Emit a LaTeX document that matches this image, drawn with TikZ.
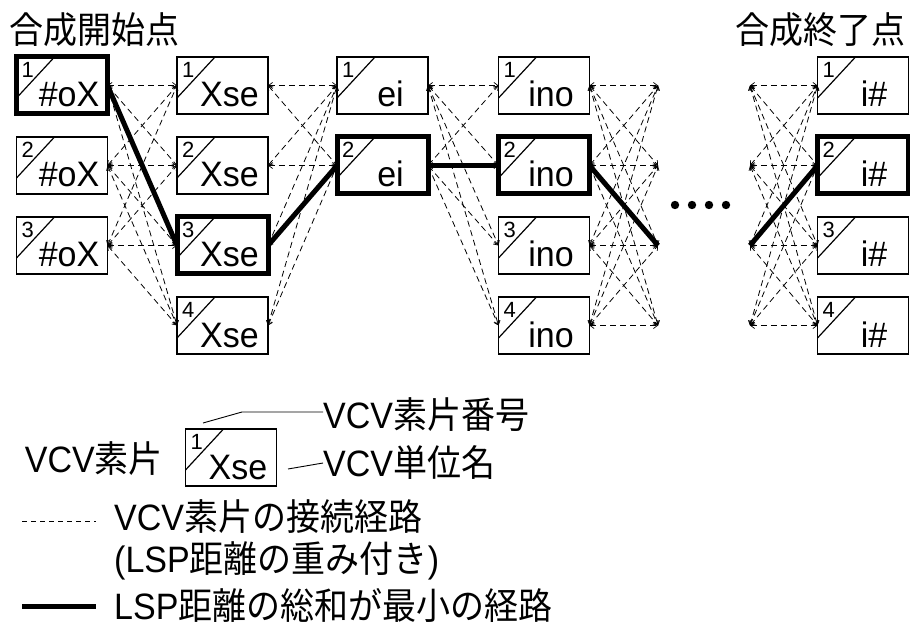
\documentclass[tikz,border=0pt]{standalone}
\usepackage{fontspec}
\setmainfont{Liberation Sans}
\newfontfamily\jp{Noto Sans CJK JP}
\usetikzlibrary{calc,arrows.meta}

\newcommand\tallt[1]{\scalebox{1}[1.08]{#1}}

\tikzset{
  vcv/.style={draw, line width=1.2pt, fill=white, minimum width=91pt, minimum height=57pt, inner sep=0pt, outer sep=0pt},
  best/.style={line width=5pt},
  link/.style={line width=0.8pt, dash pattern=on 6pt off 4pt,
    {Straight Barb[length=4pt,width=6pt,line width=0.7pt]}-{Straight Barb[length=4pt,width=6pt,line width=0.7pt]}},
  legdash/.style={line width=0.8pt, dash pattern=on 5pt off 4pt},
  minpath/.style={line width=5pt},
  leader/.style={line width=0.9pt},
  numtxt/.style={font=\fontsize{22}{22}\selectfont, inner sep=0pt, anchor=north west},
  labtxt/.style={font=\fontsize{34}{34}\selectfont, inner sep=0pt, anchor=base},
  bigtxt/.style={font=\fontsize{34}{40}\selectfont, inner sep=0pt},
}

% name, x, y, number, label, extra style, label x offset
\newcommand\vcvbox[7]{%
  \node[vcv,#6] (#1) at (#2,#3) {};
  \draw[line width=1.2pt] ($(#1.north west)+(0,41)$) -- ($(#1.north west)+(38,0)$);
  \node[numtxt] (#1n) at ($(#1.north west)+(5,5)$) {#4};
  \node[labtxt] (#1l) at ($(#1.south)+(#7,-7)$) {\scalebox{1}[1.04]{#5}};
}

\begin{document}
\begin{tikzpicture}[x=1pt,y=-1pt]
\useasboundingbox (0,0) rectangle (910,628);

% titles
\node[bigtxt, anchor=west] (tstart) at (9,30) {\tallt{\jp 合成開始点}};
\node[bigtxt, anchor=east] (tend) at (906,30) {\tallt{\jp 合成終了点}};

% free-end coordinates
\foreach \r in {1,...,4} {
  \coordinate (r\r) at (658,{85.5+80*(\r-1)});
  \coordinate (l\r) at (750,{85.5+80*(\r-1)});
}

% boxes
\vcvbox{s1}{62}{85.5}{1}{\#oX}{best}{7}
\vcvbox{s2}{62}{165.5}{2}{\#oX}{}{7}
\vcvbox{s3}{62}{245.5}{3}{\#oX}{}{7}

\vcvbox{x1}{222.5}{85.5}{1}{Xse}{}{7}
\vcvbox{x2}{222.5}{165.5}{2}{Xse}{}{7}
\vcvbox{x3}{222.5}{245.5}{3}{Xse}{best}{7}
\vcvbox{x4}{222.5}{325.5}{4}{Xse}{}{7}

\vcvbox{e1}{382.5}{85.5}{1}{ei}{}{8}
\vcvbox{e2}{382.5}{165.5}{2}{ei}{best}{8}

\vcvbox{n1}{544}{85.5}{1}{ino}{}{7}
\vcvbox{n2}{544}{165.5}{2}{ino}{best}{7}
\vcvbox{n3}{544}{245.5}{3}{ino}{}{7}
\vcvbox{n4}{544}{325.5}{4}{ino}{}{7}

\vcvbox{f1}{863}{85.5}{1}{i\#}{}{11}
\vcvbox{f2}{863}{165.5}{2}{i\#}{best}{11}
\vcvbox{f3}{863}{245.5}{3}{i\#}{}{11}
\vcvbox{f4}{863}{325.5}{4}{i\#}{}{11}

% dashed connection paths
\foreach \i in {1,2,3} \foreach \j in {1,...,4}
  \draw[link] (s\i.east) -- (x\j.west);
\foreach \i in {1,...,4} \foreach \j in {1,2}
  \draw[link] (x\i.east) -- (e\j.west);
\foreach \i in {1,2} \foreach \j in {1,...,4}
  \draw[link] (e\i.east) -- (n\j.west);
\foreach \i in {1,...,4} \foreach \j in {1,...,4}
  \draw[link] (n\i.east) -- (r\j);
\foreach \i in {1,...,4} \foreach \j in {1,...,4}
  \draw[link] (l\i) -- (f\j.west);

% minimum path
\draw[minpath] (s1.east) -- (x3.west);
\draw[minpath] (x3.east) -- (e2.west);
\draw[minpath] (e2.east) -- (n2.west);
\draw[minpath] (n2.east) -- (r3);
\draw[minpath] (l3) -- (f2.west);

% ellipsis dots
\foreach \xx in {675,692,709,726}
  \fill (\xx,205) circle (4.2pt);

% legend
\node[bigtxt, anchor=east] (legvcv) at (163,459) {\tallt{VCV{\jp 素片}}};
\vcvbox{lg}{231}{457.5}{1}{Xse}{}{7}
\node[bigtxt, anchor=west] (legnum) at (323,415) {\tallt{VCV{\jp 素片番号}}};
\node[bigtxt, anchor=west] (legname) at (323,463) {\tallt{VCV{\jp 単位名}}};
\coordinate (ld1) at (203,423);
\coordinate (ld1b) at (242,412);
\draw[leader] (ld1) -- (ld1b) -- (legnum.west |- ld1b);
\coordinate (ld2) at (288,469);
\draw[leader] (ld2) -- (legname.west);

\coordinate (da) at (22,521);
\coordinate (db) at (96,521);
\draw[legdash] (da) -- (db);
\node[bigtxt, anchor=west] (leg1) at (114,517) {\tallt{VCV{\jp 素片の接続経路}}};
\node[bigtxt, anchor=west] (leg2) at (114,561) {\tallt{(LSP{\jp 距離の重み付き})}};
\coordinate (ta) at (22,606);
\coordinate (tb) at (96,606);
\draw[minpath] (ta) -- (tb);
\node[bigtxt, anchor=west] (leg3) at (114,605) {\tallt{LSP{\jp 距離の総和が最小の経路}}};
\end{tikzpicture}
\end{document}
